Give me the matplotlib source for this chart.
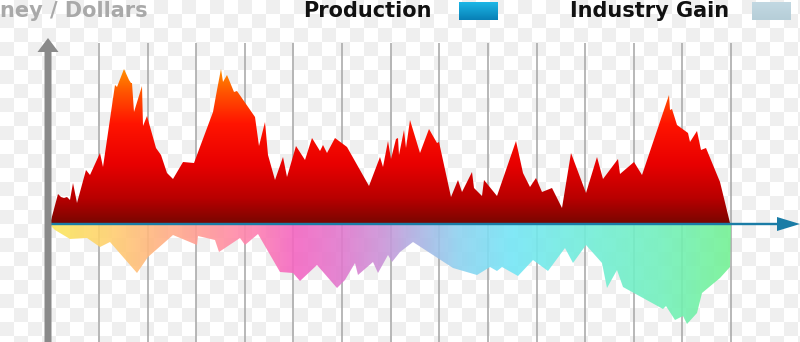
import numpy as np
import matplotlib
matplotlib.use('Agg')
import matplotlib.pyplot as plt
from matplotlib.colors import LinearSegmentedColormap, ListedColormap
from matplotlib.patches import Polygon

# production above the axis: time step / value
prod_t = [0, 8, 11, 14, 17, 20, 23, 27, 36, 40, 50, 53, 65, 67, 74, 79, 81, 82, 84, 92,
          93, 97, 106, 111, 117, 123, 133, 144, 163, 167, 171, 173, 177, 184, 187, 205,
          209, 215, 218, 225, 233, 237, 246, 255, 262, 270, 273, 277, 285, 297, 319, 330,
          333, 338, 341, 346, 348, 349, 354, 356, 360, 370, 379, 387, 389, 401, 408, 412,
          422, 424, 432, 434, 447, 466, 473, 480, 486, 492, 502, 512, 521, 536, 547, 553,
          568, 570, 584, 592, 619, 620, 622, 627, 638, 640, 647, 651, 656, 670, 680, 681]
prod_v = [0, 30, 27, 26, 27, 24, 41, 21, 54, 49, 71, 57, 139, 137, 155, 144, 141, 141, 112, 138,
          98, 108, 76, 69, 51, 45, 62, 61, 112, 134, 155, 142, 149, 132, 133, 107,
          78, 102, 69, 44, 67, 47, 78, 64, 86, 73, 79, 71, 86, 77, 38, 67,
          57, 83, 65, 85, 86, 69, 94, 76, 104, 71, 95, 81, 82, 27, 44, 32,
          52, 36, 28, 44, 28, 83, 51, 37, 46, 32, 36, 16, 71, 31, 67, 45,
          65, 50, 62, 49, 129, 114, 115, 99, 91, 82, 93, 74, 76, 42, 1, 0]

# industry gain below the axis
gain_t = [0, 2, 5, 20, 37, 50, 60, 87, 98, 123, 147, 148, 165, 169, 190, 195, 208, 230, 243,
          250, 267, 287, 295, 305, 308, 323, 328, 338, 342, 350, 363, 403, 427, 440, 447,
          452, 468, 483, 498, 515, 523, 536, 552, 557, 567, 573, 613, 616, 625, 633, 637,
          647, 652, 670, 680, 681]
gain_v = [0, -3, -6, -15, -14, -23, -18, -49, -33, -11, -21, -12, -16, -28, -14, -21, -10, -48, -49,
          -57, -41, -64, -56, -39, -51, -38, -49, -31, -38, -28, -18, -44, -51, -43, -47,
          -43, -52, -36, -47, -24, -39, -21, -39, -64, -46, -63, -85, -82, -96, -92, -100,
          -89, -69, -54, -43, -1]

legend_labels = ['Production', 'Industry Gain']
legend_colors = [('#1cb6e6', '#0880b6'), ('#c2d8e2', '#b6ced8')]
y_title = 'ney / Dollars'   # shown cropped in the original

W, H = 800, 342
fig = plt.figure(figsize=(8, 3.42), dpi=100)

# checkered (transparent-looking) background
bg = fig.add_axes([0, 0, 1, 1])
n = 14
yy, xx = np.mgrid[0:H // n + 1, 0:W // n + 1]
bg.imshow((xx + yy) % 2, cmap=ListedColormap(['#ffffff', '#efefef']), interpolation='nearest',
          extent=[0, (W // n + 1) * n, (H // n + 1) * n, 0], aspect='auto')
bg.set_xlim(0, W)
bg.set_ylim(H, 0)
bg.axis('off')

ax = fig.add_axes([0, 0, 1, 1])
ax.patch.set_alpha(0)
ax.set_xlim(-50, 750)
ax.set_ylim(-118, 224)
ax.axis('off')

# grid lines
ax.vlines(np.linspace(49, 681, 14), -118, 181, color='#ababab', lw=1.2, zorder=2)

# production area with vertical gradient
red = LinearSegmentedColormap.from_list('red', [
    (0.0, '#780600'), (0.15, '#b80000'), (0.35, '#e80000'), (0.59, '#ff1400'),
    (0.77, '#ff5200'), (0.93, '#ff9600'), (1.0, '#ffaa00')])
pt = np.array(prod_t, float)
pv = np.array(prod_v, float)
poly = Polygon(np.column_stack([pt, pv]), closed=True, fc='none', ec='none')
ax.add_patch(poly)
im = ax.imshow(np.linspace(0, 1, 256).reshape(-1, 1), cmap=red, origin='lower',
               extent=[0, 681, 0, 170], aspect='auto', zorder=3)
im.set_clip_path(poly)

# industry gain with horizontal gradient
rainbow = LinearSegmentedColormap.from_list('rb', [
    (0.0, '#fbe85c'), (0.08, '#ffd26e'), (0.15, '#ffb680'), (0.22, '#ff9c96'),
    (0.29, '#ff84ae'), (0.36, '#f466c2'), (0.43, '#e07ace'), (0.49, '#ca94d8'),
    (0.53, '#b2aee2'), (0.6, '#8ed2f0'), (0.68, '#74e6f6'), (0.8, '#72eed6'),
    (0.9, '#72f0bc'), (1.0, '#74f294')])
gt = np.array(gain_t, float)
gv = np.array(gain_v, float)
poly2 = Polygon(np.column_stack([gt, gv]), closed=True, fc='none', ec='none')
ax.add_patch(poly2)
im2 = ax.imshow(np.linspace(0, 1, 256).reshape(1, -1), cmap=rainbow, origin='lower',
                extent=[0, 681, -110, 0], aspect='auto', alpha=0.9, zorder=3)
im2.set_clip_path(poly2)

# axes arrows
ax.arrow(0, 0, 750, 0, width=2.4, head_width=14, head_length=23,
         length_includes_head=True, color='#1a7ca6', lw=0, zorder=5)
ax.arrow(-2, -118, 0, 304, width=7, head_width=21, head_length=14,
         length_includes_head=True, color='#8a8a8a', lw=0, zorder=5)

# titles / legend
fs = 15
base = 1 - 17 / H
fig.text(0.5 / W, base, y_title, ha='left', va='baseline', fontsize=fs,
         fontweight='bold', color='#a9a9a9')
fig.text(303 / W, base, legend_labels[0], ha='left', va='baseline', fontsize=fs,
         fontweight='bold', color='#111111')
fig.text(570 / W, base, legend_labels[1], ha='left', va='baseline', fontsize=fs,
         fontweight='bold', color='#111111')
for x0, (c1, c2) in zip([459, 752], legend_colors):
    lax = fig.add_axes([x0 / W, 1 - 20 / H, 39 / W, 18 / H])
    cm = LinearSegmentedColormap.from_list('l', [c2, c1])
    lax.imshow(np.linspace(0, 1, 32).reshape(-1, 1), cmap=cm, origin='lower', aspect='auto')
    lax.axis('off')

fig.savefig('out.png', dpi=100)
